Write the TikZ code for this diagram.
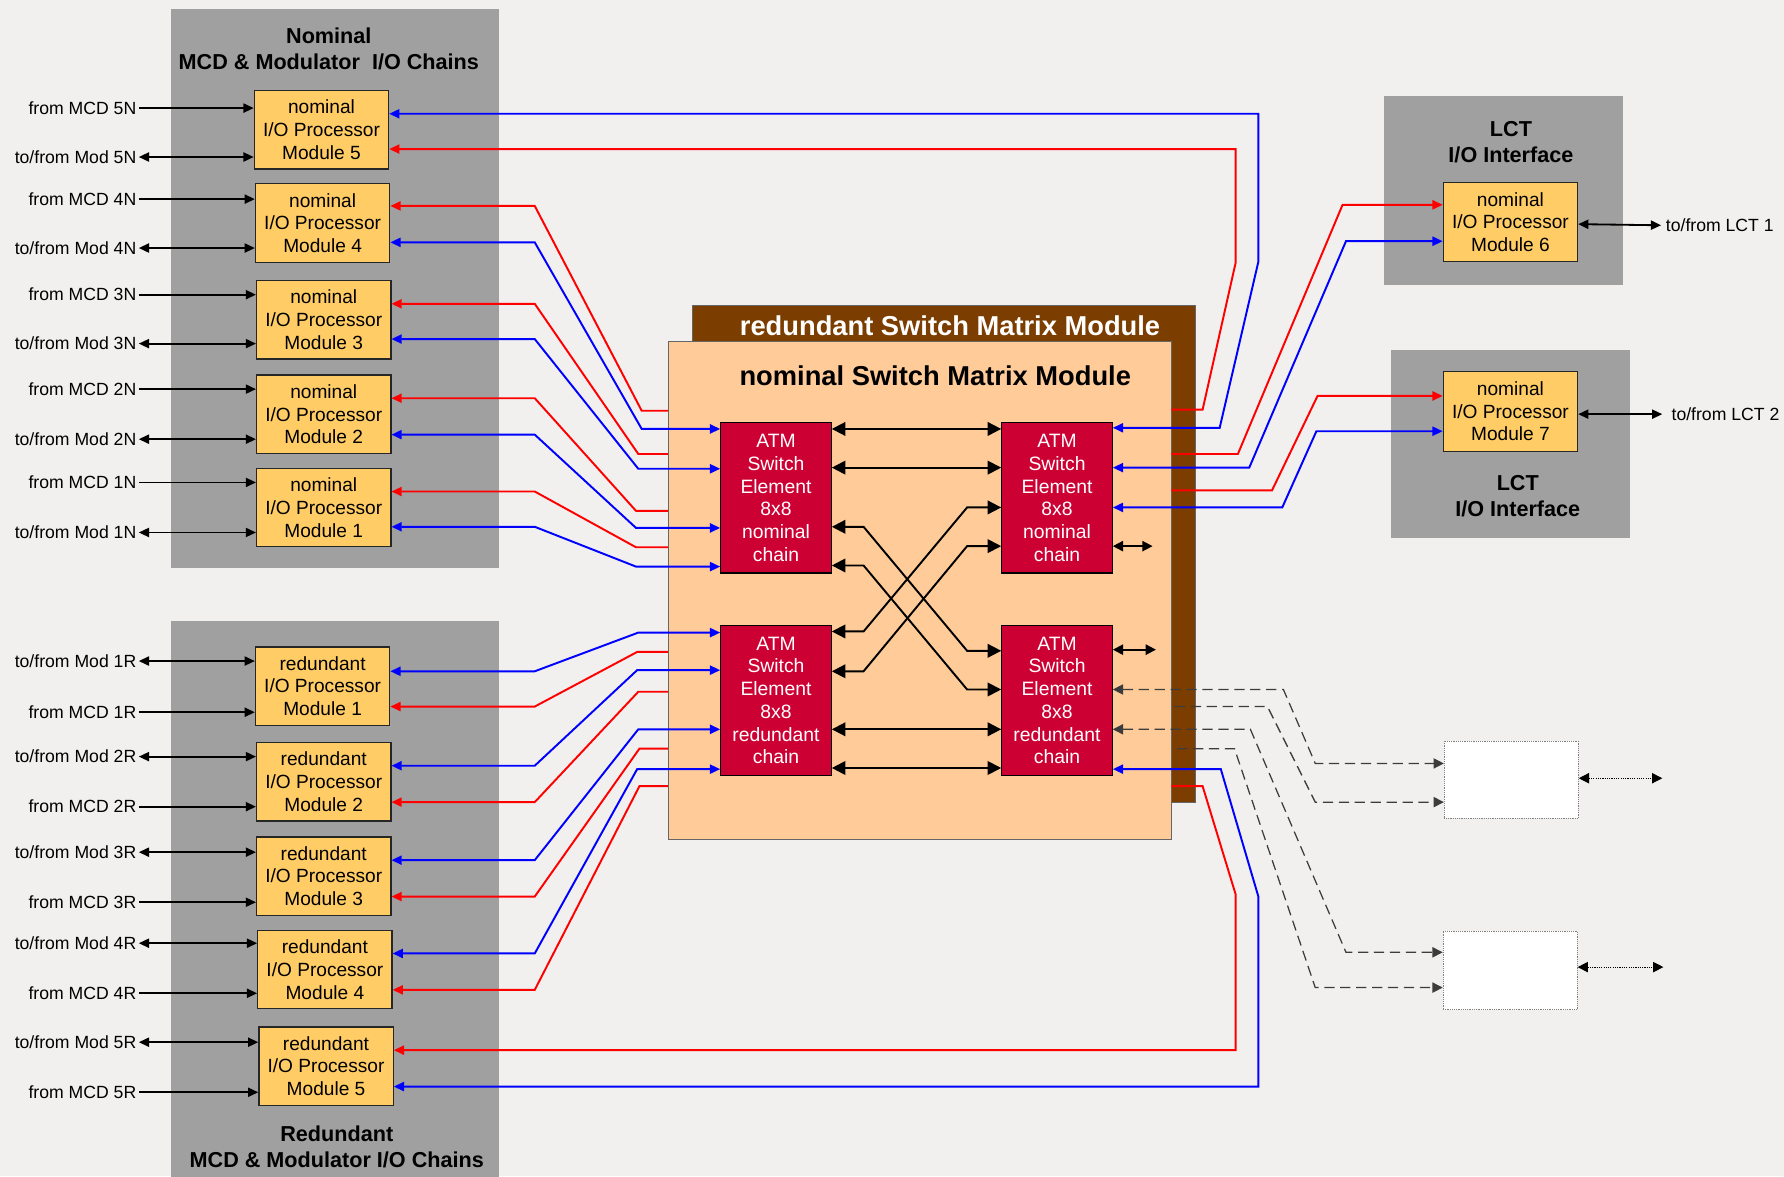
\documentclass[tikz,border=0pt]{standalone}
\usepackage{fontspec}
\setmainfont{Liberation Sans}
\usetikzlibrary{arrows.meta}
\definecolor{bgc}{RGB}{241,240,238}
\definecolor{panelgray}{RGB}{160,160,160}
\definecolor{iopyellow}{RGB}{255,204,102}
\definecolor{peach}{RGB}{255,204,153}
\definecolor{brownmod}{RGB}{124,62,0}
\definecolor{atmred}{RGB}{204,0,51}
\definecolor{dashgray}{RGB}{60,60,60}
\tikzset{
  ctip/.tip={Triangle[length=9pt,width=8pt]},
  ktip/.tip={Triangle[length=9pt,width=8pt]},
  btip/.tip={Triangle[length=12pt,width=12pt]},
  mtip/.tip={Triangle[length=9pt,width=9pt]},
}
\begin{document}
\begin{tikzpicture}[x=1pt,y=-1pt,
  panel/.style={fill=panelgray, draw=none, inner sep=0pt, anchor=north west},
  iop/.style={draw=black!85, line width=1.1pt, fill=iopyellow, align=center, font=\fontsize{16.8}{20}\selectfont, inner sep=0pt, minimum width=118pt, minimum height=69pt, anchor=north west},
  atm/.style={draw=black, line width=1.1pt, fill=atmred, text=white, align=center, font=\fontsize{17}{20}\selectfont, inner sep=0pt, minimum width=97pt, minimum height=132pt, anchor=north west},
  wbox/.style={draw=gray, densely dotted, line width=0.6pt, fill=white, inner sep=0pt, minimum width=118pt, minimum height=68pt, anchor=north west},
  lbl/.style={font=\fontsize{15.5}{18}\selectfont, inner xsep=2pt, inner ysep=0pt},
  ttl/.style={font=\bfseries\fontsize{19}{23}\selectfont, align=center, inner sep=0pt},
  rl/.style={draw=red, line width=1.7pt},
  bl/.style={draw=blue, line width=1.7pt},
  kl/.style={draw=black, line width=1.6pt},
  xl/.style={draw=black, line width=1.7pt},
  dl/.style={draw=dashgray, line width=1.1pt, dash pattern=on 9pt off 5pt},
  tl/.style={draw=black, line width=1pt, densely dotted},
]
\useasboundingbox[fill=bgc] (0,0) rectangle (1568,1034);

% panels
\node[panel, minimum width=288pt, minimum height=491pt] (pnom) at (150,8) {};
\node[panel, minimum width=288pt, minimum height=500pt] (pred) at (150,546) {};
\node[panel, minimum width=210pt, minimum height=166pt] (plct1) at (1216,84) {};
\node[panel, minimum width=210pt, minimum height=166pt] (plct2) at (1222,307) {};

\node[ttl] (tnom) at (289,43) {Nominal\\MCD \& Modulator \ I/O Chains};
\node[ttl] (tred) at (296,1008) {Redundant\\MCD \& Modulator I/O Chains};
\node[ttl] (tlct1) at (1328,125) {LCT\\I/O Interface};
\node[ttl] (tlct2) at (1334,436) {LCT\\I/O Interface};

% switch matrix modules
\node[fill=brownmod, draw=black!60, line width=0.6pt, anchor=north west, inner sep=0pt, minimum width=442pt, minimum height=437pt] (rsm) at (608,268) {};
\node[fill=peach, draw=black!60, line width=0.6pt, anchor=north west, inner sep=0pt, minimum width=442pt, minimum height=437pt] (nsm) at (587,300) {};
\node[font=\bfseries\fontsize{24}{28}\selectfont, text=white, inner sep=0pt] (trsm) at (835,286) {redundant Switch Matrix Module};
\node[font=\bfseries\fontsize{24}{28}\selectfont, inner sep=0pt] (tnsm) at (822,330) {nominal Switch Matrix Module};

% IO processor modules
\node[iop] (n5) at (223,79) {nominal\\I/O Processor\\Module 5};
\node[iop] (n4) at (224,161) {nominal\\I/O Processor\\Module 4};
\node[iop] (n3) at (225,246) {nominal\\I/O Processor\\Module 3};
\node[iop] (n2) at (225,329) {nominal\\I/O Processor\\Module 2};
\node[iop] (n1) at (225,411) {nominal\\I/O Processor\\Module 1};
\node[iop] (r1) at (224,568) {redundant\\I/O Processor\\Module 1};
\node[iop] (r2) at (225,652) {redundant\\I/O Processor\\Module 2};
\node[iop] (r3) at (225,735) {redundant\\I/O Processor\\Module 3};
\node[iop] (r4) at (226,817) {redundant\\I/O Processor\\Module 4};
\node[iop] (r5) at (227,902) {redundant\\I/O Processor\\Module 5};
\node[iop] (m6) at (1268,160) {nominal\\I/O Processor\\Module 6};
\node[iop, minimum height=70pt] (m7) at (1268,326) {nominal\\I/O Processor\\Module 7};

% ATM switch elements
\node[atm] (nw) at (633,371) {ATM\\Switch\\Element\\8x8\\nominal\\chain};
\node[atm] (ne) at (880,371) {ATM\\Switch\\Element\\8x8\\nominal\\chain};
\node[atm] (sw) at (633,549) {ATM\\Switch\\Element\\8x8\\redundant\\chain};
\node[atm] (se) at (880,549) {ATM\\Switch\\Element\\8x8\\redundant\\chain};

% empty boxes
\node[wbox] (w1) at (1269,651) {};
\node[wbox, minimum height=69pt] (w2) at (1268,818) {};

% left labels and arrows
\foreach \i/\ya/\yb in {5/95/138, 4/175/218, 3/259/302, 2/342/386, 1/424/468} {
  \node[lbl, anchor=east] (lna\i) at (122,\ya) {from MCD \i N};
  \node[lbl, anchor=east] (lnb\i) at (122,\yb) {to/from Mod \i N};
  \draw[kl,-ktip] (lna\i.east) -- (n\i.west |- lna\i.east);
  \draw[kl,ktip-ktip] (lnb\i.east) -- (n\i.west |- lnb\i.east);
}
\foreach \i/\ya/\yb in {1/581/626, 2/665/709, 3/749/793, 4/829/873, 5/916/960} {
  \node[lbl, anchor=east] (lrb\i) at (122,\ya) {to/from Mod \i R};
  \node[lbl, anchor=east] (lra\i) at (122,\yb) {from MCD \i R};
  \draw[kl,ktip-ktip] (lrb\i.east) -- (r\i.west |- lrb\i.east);
  \draw[kl,-ktip] (lra\i.east) -- (r\i.west |- lra\i.east);
}

% LCT labels
\node[lbl, anchor=west, inner xsep=0pt] (llct1) at (1464,198) {to/from LCT 1};
\node[lbl, anchor=west, inner xsep=0pt] (llct2) at (1469,364) {to/from LCT 2};
\draw[kl,ktip-ktip] (m6.east |- 0,197) -- ([xshift=-4pt]llct1.west);
\draw[kl,ktip-ktip] (m7.east |- 0,364) -- ([xshift=-8pt]llct2.west);

% nominal IO to switch
\draw[rl,-ctip] (nsm.west |- 0,361) -- (564,361) -- (470,181) -- (n4.east |- 0,181);
\draw[bl,ctip-ctip] (n4.east |- 0,213) -- (470,213) -- (564,377) -- (nw.west |- 0,377);
\draw[rl,-ctip] (nsm.west |- 0,399) -- (561,399) -- (470,267) -- (n3.east |- 0,267);
\draw[bl,ctip-ctip] (n3.east |- 0,298) -- (470,298) -- (561,412) -- (nw.west |- 0,412);
\draw[rl,-ctip] (nsm.west |- 0,449) -- (559,449) -- (470,350) -- (n2.east |- 0,350);
\draw[bl,ctip-ctip] (n2.east |- 0,382) -- (470,382) -- (559,464) -- (nw.west |- 0,464);
\draw[rl,-ctip] (nsm.west |- 0,481) -- (559,481) -- (470,432) -- (n1.east |- 0,432);
\draw[bl,ctip-ctip] (n1.east |- 0,463) -- (470,463) -- (559,498) -- (nw.west |- 0,498);

% redundant IO to switch
\draw[bl,ctip-ctip] (r1.east |- 0,590) -- (470,590) -- (561,556) -- (sw.west |- 0,556);
\draw[rl,-ctip] (nsm.west |- 0,573) -- (560,573) -- (470,621) -- (r1.east |- 0,621);
\draw[bl,ctip-ctip] (r2.east |- 0,673) -- (470,673) -- (560,589) -- (sw.west |- 0,589);
\draw[rl,-ctip] (nsm.west |- 0,608) -- (561,608) -- (470,705) -- (r2.east |- 0,705);
\draw[bl,ctip-ctip] (r3.east |- 0,756) -- (470,756) -- (561,641) -- (sw.west |- 0,641);
\draw[rl,-ctip] (nsm.west |- 0,658) -- (562,658) -- (470,788) -- (r3.east |- 0,788);
\draw[bl,ctip-ctip] (r4.east |- 0,838) -- (470,838) -- (560,676) -- (sw.west |- 0,676);
\draw[rl,-ctip] (nsm.west |- 0,691) -- (562,691) -- (470,870) -- (r4.east |- 0,870);

% right side lines
\draw[bl,ctip-ctip] (ne.east |- 0,376) -- (1072,376) -- (1106,230) -- (1106,100) -- (n5.east |- 0,100);
\draw[rl,-ctip] (nsm.east |- 0,360) -- (1057,360) -- (1086,231) -- (1086,131) -- (n5.east |- 0,131);
\draw[rl,-ctip] (nsm.east |- 0,399) -- (1088,399) -- (1180,180) -- (m6.west |- 0,180);
\draw[bl,ctip-ctip] (ne.east |- 0,411) -- (1098,411) -- (1183,212) -- (m6.west |- 0,212);
\draw[rl,-ctip] (nsm.east |- 0,431) -- (1118,431) -- (1158,348) -- (m7.west |- 0,348);
\draw[bl,ctip-ctip] (ne.east |- 0,446) -- (1127,446) -- (1157,379) -- (m7.west |- 0,379);
\draw[rl,-ctip] (nsm.east |- 0,691) -- (1057,691) -- (1086,786) -- (1086,923) -- (r5.east |- 0,923);
\draw[bl,ctip-ctip] (se.east |- 0,676) -- (1073,676) -- (1106,788) -- (1106,955) -- (r5.east |- 0,955);

% switch interconnects
\draw[xl,btip-btip] (nw.east |- 0,377) -- (ne.west |- 0,377);
\draw[xl,btip-btip] (nw.east |- 0,411) -- (ne.west |- 0,411);
\draw[xl,btip-btip] (sw.east |- 0,641) -- (se.west |- 0,641);
\draw[xl,btip-btip] (sw.east |- 0,675) -- (se.west |- 0,675);
\draw[xl,btip-btip] (nw.east |- 0,463) -- (759,463) -- (850,572) -- (se.west |- 0,572);
\draw[xl,btip-btip] (nw.east |- 0,497) -- (759,497) -- (850,606) -- (se.west |- 0,606);
\draw[xl,btip-btip] (sw.east |- 0,555) -- (759,555) -- (850,446) -- (ne.west |- 0,446);
\draw[xl,btip-btip] (sw.east |- 0,590) -- (759,590) -- (850,480) -- (ne.west |- 0,480);
\coordinate (nestub) at (1013,480);
\coordinate (sestub) at (1016,571);
\draw[kl,mtip-mtip] (ne.east |- 0,480) -- (nestub);
\draw[kl,mtip-mtip] (se.east |- 0,571) -- (sestub);

% dashed lines
\draw[dl,mtip-mtip] (se.east |- 0,606) -- (1128,606) -- (1156,671) -- (w1.west |- 0,671);
\draw[dl,-mtip] ([xshift=3pt]nsm.east |- 0,621) -- (1114,621) -- (1156,705) -- (w1.west |- 0,705);
\draw[dl,mtip-mtip] (se.east |- 0,641) -- (1099,641) -- (1183,837) -- (w2.west |- 0,837);
\draw[dl,-mtip] ([xshift=5pt]nsm.east |- 0,658) -- (1085,658) -- (1156,868) -- (w2.west |- 0,868);

% dotted arrows
\coordinate (w1out) at (1461,684);
\coordinate (w2out) at (1462,850);
\draw[tl,mtip-mtip] (w1.east |- 0,684) -- (w1out);
\draw[tl,mtip-mtip] (w2.east |- 0,850) -- (w2out);
\end{tikzpicture}
\end{document}
